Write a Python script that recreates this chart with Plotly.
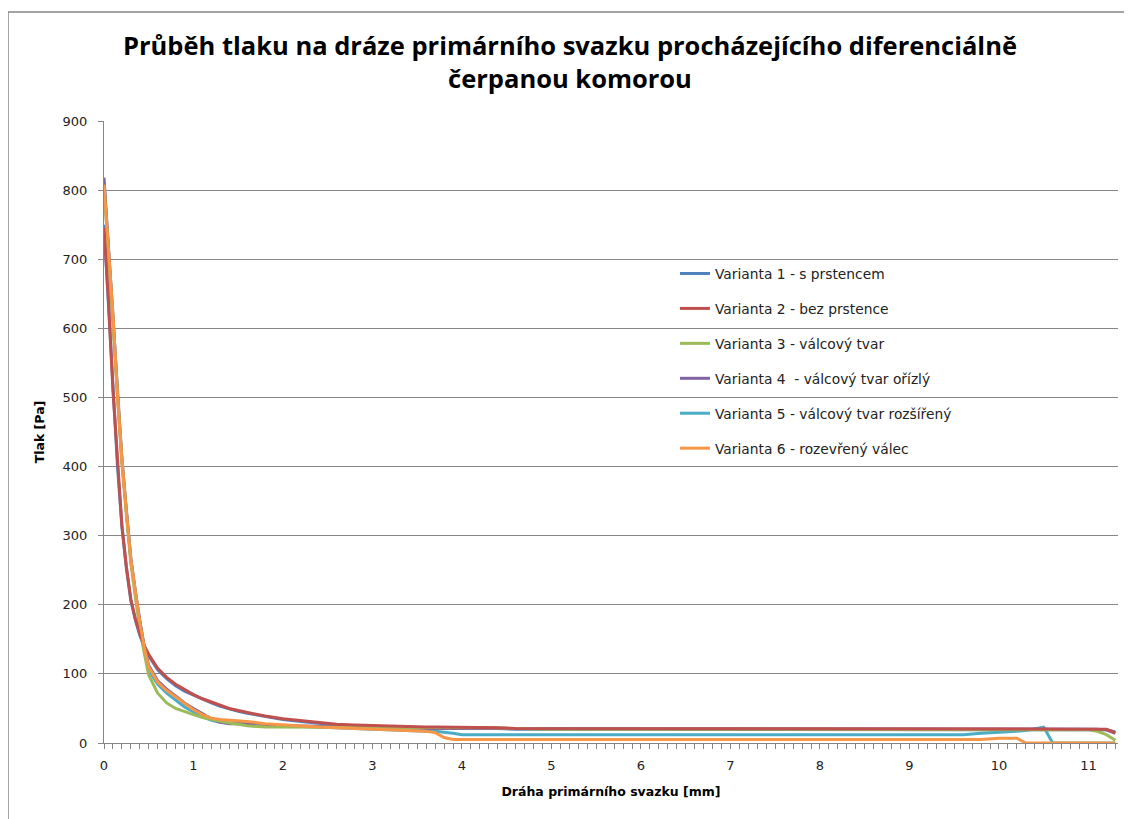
import plotly.graph_objects as go

x_vals = [0, 0.05, 0.1, 0.15, 0.2, 0.25, 0.3, 0.35, 0.4, 0.45, 0.5, 0.6, 0.7, 0.8, 0.9,
          1.0, 1.1, 1.2, 1.3, 1.4, 1.5, 1.6, 1.8, 2.0, 2.2, 2.4, 2.6, 2.8, 3.0, 3.2,
          3.4, 3.6, 3.7, 3.8, 3.9, 4.0, 4.2, 4.4, 4.6, 5.0, 6.0, 7.0, 8.0, 9.0, 9.6,
          9.8, 10.0, 10.2, 10.3, 10.4, 10.5, 10.6, 10.8, 11.0, 11.1, 11.2, 11.3]

v1 = [750, 635, 505, 402, 313, 253, 206, 178, 156, 139, 126, 106, 93, 83, 75,
      69, 63, 58, 53, 49, 46, 43, 38, 34, 31, 28, 26, 25, 24, 23,
      23, 22, 22, 22, 22, 21, 21, 21, 20, 20, 20, 20, 20, 20, 20,
      20, 20, 20, 20, 20, 20, 20, 20, 20, 20, 19, 16]
v2 = [745, 640, 510, 405, 315, 255, 208, 180, 158, 141, 128, 108, 95, 85, 77,
      70, 64, 59, 54, 50, 47, 44, 39, 35, 32, 29, 27, 26, 25, 24,
      24, 23, 23, 23, 23, 22, 22, 22, 21, 21, 21, 21, 21, 21, 21,
      21, 21, 21, 21, 21, 21, 21, 21, 21, 21, 20, 15]
v3 = [805, 705, 615, 500, 405, 330, 260, 212, 165, 130, 98, 72, 58, 50, 45,
      41, 37, 34, 31, 29, 27, 25, 23, 23, 23, 23, 23, 23, 23, 23,
      23, 23, 23, 23, 23, 23, 23, 22, 21, 20, 20, 20, 20, 20, 20,
      20, 20, 20, 20, 20, 20, 20, 20, 19, 17, 12, 4]
v4 = [818, 715, 622, 507, 412, 337, 267, 220, 176, 140, 112, 90, 78, 68, 58,
      50, 42, 35, 30, 28, 28, 27, 26, 25, 25, 24, 24, 23, 23, 22,
      22, 21, 21, 21, 21, 20, 20, 20, 20, 20, 20, 20, 20, 20, 20,
      20, 20, 20, 20, 20, 20, 20, 20, 20, 20, 19, 14]
v5 = [810, 712, 620, 505, 410, 335, 265, 218, 174, 137, 105, 85, 72, 62, 52,
      45, 38, 33, 30, 29, 28, 27, 26, 25, 24, 23, 22, 21, 20, 18,
      17, 17, 17, 16, 14, 12, 12, 12, 12, 12, 12, 12, 12, 12, 12,
      14, 15, 17, 18, 20, 23, 0, 0, 0, 0, 0, 0]
v6 = [808, 710, 620, 505, 410, 335, 265, 220, 175, 138, 110, 88, 76, 67, 58,
      48, 41, 36, 34, 33, 33, 31, 28, 26, 25, 23, 22, 21, 20, 18,
      17, 17, 15, 8, 5, 5, 5, 5, 5, 5, 5, 5, 5, 5, 5,
      5, 7, 7, 0, 0, 0, 0, 0, 0, 0, 0, 0]

series_names = ["Varianta 1 - s prstencem", "Varianta 2 - bez prstence",
                "Varianta 3 - válcový tvar", "Varianta 4  - válcový tvar ořízlý",
                "Varianta 5 - válcový tvar rozšířený", "Varianta 6 - rozevřený válec"]
series_values = [v1, v2, v3, v4, v5, v6]
colors = ["#4F81BD", "#C0504D", "#9BBB59", "#8064A2", "#4BACC6", "#F79646"]

title_text = "Průběh tlaku na dráze primárního svazku procházejícího diferenciálně<br>čerpanou komorou"
x_title = "Dráha primárního svazku [mm]"
y_title = "Tlak [Pa]"

# page body has an 8 px default margin; figure sized to fit inside the window
W, H = 1124, 811
ML, MR, MT, MB = 96, 14, 113, 76
PW = W - ML - MR
PH = H - MT - MB

fig = go.Figure()
order = [0, 4, 3, 2, 1, 5]
traces = []
for i in range(6):
    traces.append(go.Scatter(
        x=x_vals, y=series_values[i], mode="lines", name=series_names[i],
        line=dict(color=colors[i], width=3), legendgroup=str(i), legendrank=i + 1,
    ))
for k in order:
    fig.add_trace(traces[k])

axis_font = dict(family="DejaVu Sans", size=13, color="#222222")
title_font = dict(family="DejaVu Sans", size=12.5, color="#000000", weight="bold")

fig.update_layout(
    width=W, height=H,
    paper_bgcolor="white", plot_bgcolor="white",
    margin=dict(l=ML, r=MR, t=MT, b=MB),
    title=dict(text=title_text, x=0.5, xanchor="center", y=1 - 47 / H, yanchor="top",
               font=dict(family="Open Sans", size=25.5, color="#000000", weight="bold")),
    font=dict(family="DejaVu Sans", size=12, color="#222222"),
    showlegend=True,
    legend=dict(x=(678 - 8 - ML) / PW - 0.003, y=(743 - 258) / PH, xanchor="left", yanchor="top",
                bgcolor="rgba(0,0,0,0)", tracegroupgap=14,
                font=dict(family="DejaVu Sans", size=13.8, color="#222222")),
    xaxis=dict(range=[0, 11.33], dtick=1, tick0=0, showgrid=False,
               showline=True, linecolor="#868686", linewidth=1,
               ticks="outside", ticklen=5, tickcolor="#868686",
               minor=dict(dtick=0.1, ticks="outside", ticklen=5, tickcolor="#868686", showgrid=False),
               zeroline=False, ticklabelstandoff=5,
               title=dict(text=x_title, font=title_font, standoff=15),
               tickfont=axis_font),
    yaxis=dict(range=[0, 900], dtick=100, showgrid=True, gridcolor="#868686", gridwidth=1,
               showline=True, linecolor="#868686", linewidth=1,
               ticks="outside", ticklen=5, tickcolor="#868686", zeroline=False,
               ticklabelstandoff=8,
               title=dict(text=y_title, font=title_font, standoff=15),
               tickfont=axis_font),
)

# chart-area border (left and top edges visible in the reference)
bx = (0 - ML) / PW
by_top = (PH + MT - 4) / PH
fig.add_shape(type="line", xref="paper", yref="paper",
              x0=bx, x1=bx, y0=-MB / PH - 0.05, y1=by_top,
              line=dict(color="#868686", width=1.5))
fig.add_shape(type="line", xref="paper", yref="paper",
              x0=bx, x1=1 + MR / PW + 0.05, y0=by_top, y1=by_top,
              line=dict(color="#868686", width=1.5))

fig.write_html("out.html")
